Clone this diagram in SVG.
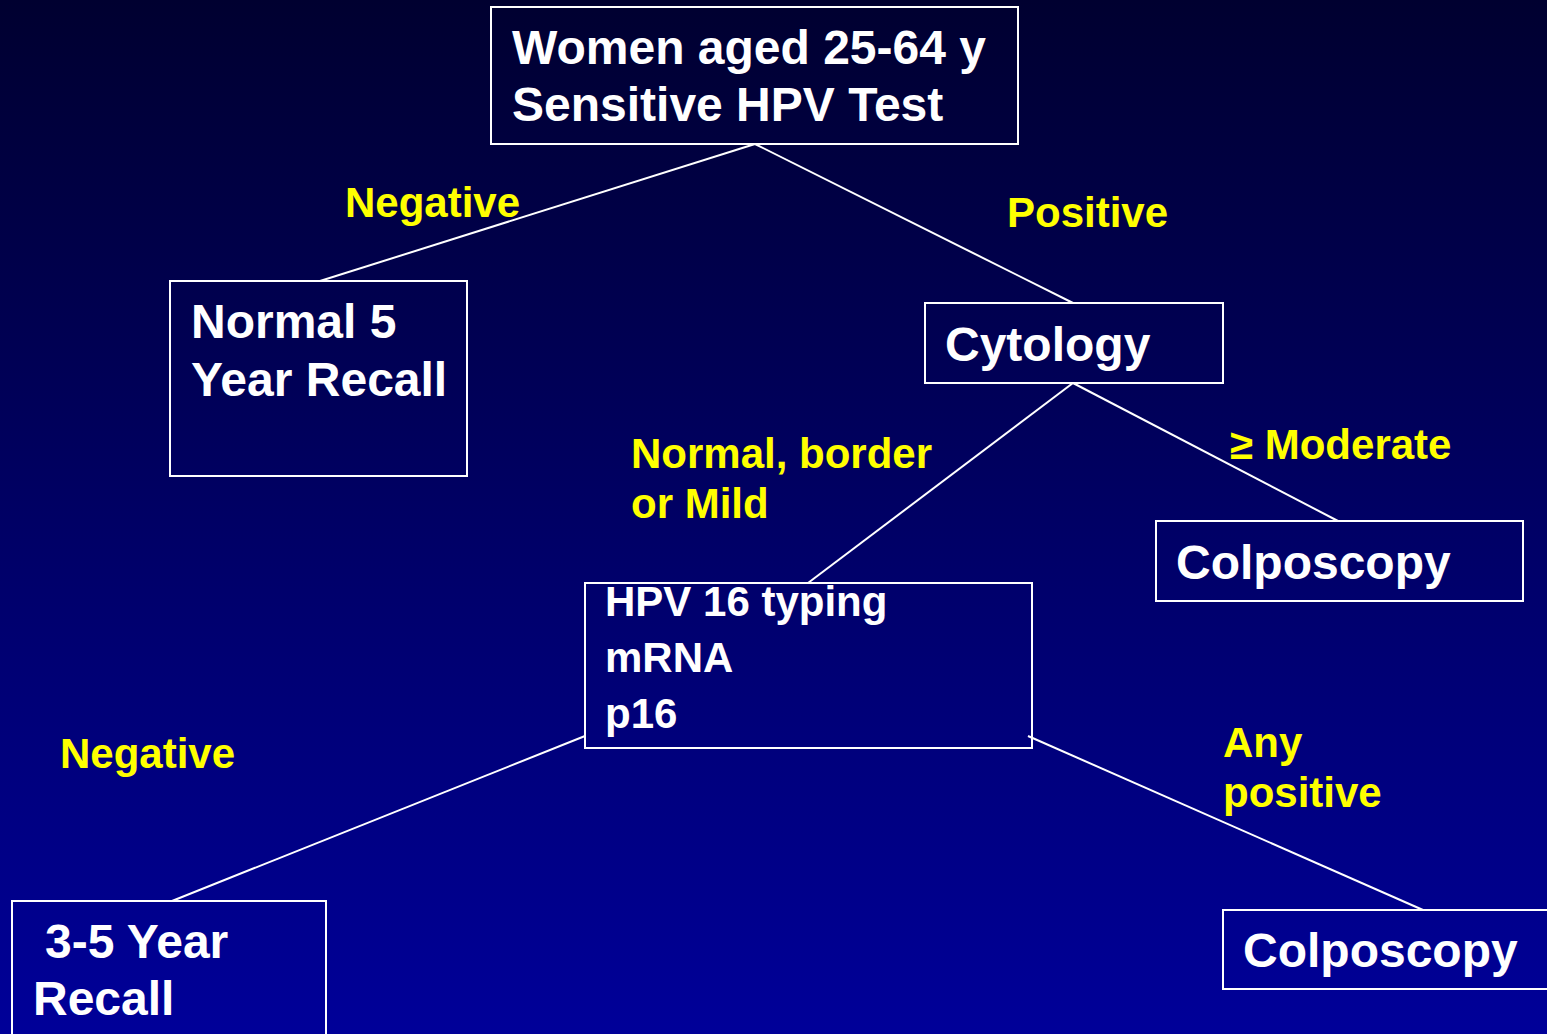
<svg xmlns="http://www.w3.org/2000/svg" width="1547" height="1034" viewBox="0 0 1547 1034">
<defs>
<linearGradient id="bg" x1="0" y1="0" x2="0" y2="1">
<stop offset="0" stop-color="#000030"/>
<stop offset="1" stop-color="#000099"/>
</linearGradient>
<style>
.box{fill:none;stroke:#ffffff;stroke-width:2}
.t{font-family:"Liberation Sans",Arial,sans-serif;font-weight:bold;fill:#ffffff;font-size:48px}
.s{font-size:42px}
.y{font-family:"Liberation Sans",Arial,sans-serif;font-weight:bold;fill:#ffff00;font-size:42px}
.c{stroke:#ffffff;stroke-width:2;fill:none}
</style>
</defs>
<rect x="0" y="0" width="1547" height="1034" fill="url(#bg)"/>
<g id="connectors">
<line class="c" x1="755" y1="144" x2="320" y2="281"/>
<line class="c" x1="755" y1="144" x2="1073" y2="303"/>
<line class="c" x1="1073" y1="383" x2="808" y2="583"/>
<line class="c" x1="1073" y1="383" x2="1338" y2="521"/>
<line class="c" x1="585" y1="736" x2="172" y2="901"/>
<line class="c" x1="1028" y1="736" x2="1423" y2="910"/>
</g>
<g id="labels">
<text class="y" x="345" y="217">Negative</text>
<text class="y" x="1007" y="227">Positive</text>
<text class="y" x="631" y="468">Normal, border</text>
<text class="y" x="631" y="518">or Mild</text>
<text class="y" x="1230" y="459">≥ Moderate</text>
<text class="y" x="60" y="768">Negative</text>
<text class="y" x="1223" y="757">Any</text>
<text class="y" x="1223" y="807">positive</text>
</g>
<g id="root">
<rect class="box" x="491" y="7" width="527" height="137"/>
<text class="t" x="512" y="64">Women aged 25-64 y</text>
<text class="t" x="512" y="121">Sensitive HPV Test</text>
</g>
<g id="normal5">
<rect class="box" x="170" y="281" width="297" height="195"/>
<text class="t" x="191" y="338">Normal 5</text>
<text class="t" x="191" y="396">Year Recall</text>
</g>
<g id="cytology">
<rect class="box" x="925" y="303" width="298" height="80"/>
<text class="t" x="945" y="361">Cytology</text>
</g>
<g id="colposcopy1">
<rect class="box" x="1156" y="521" width="367" height="80"/>
<text class="t" x="1176" y="579">Colposcopy</text>
</g>
<g id="hpv16">
<rect class="box" x="585" y="583" width="447" height="165"/>
<text class="t s" x="605" y="616">HPV 16 typing</text>
<text class="t s" x="605" y="672">mRNA</text>
<text class="t s" x="605" y="728">p16</text>
</g>
<g id="recall35">
<rect class="box" x="12" y="901" width="314" height="140"/>
<text class="t" x="45" y="958">3-5 Year</text>
<text class="t" x="33" y="1015">Recall</text>
</g>
<g id="colposcopy2">
<rect class="box" x="1223" y="910" width="330" height="79"/>
<text class="t" x="1243" y="967">Colposcopy</text>
</g>
</svg>
